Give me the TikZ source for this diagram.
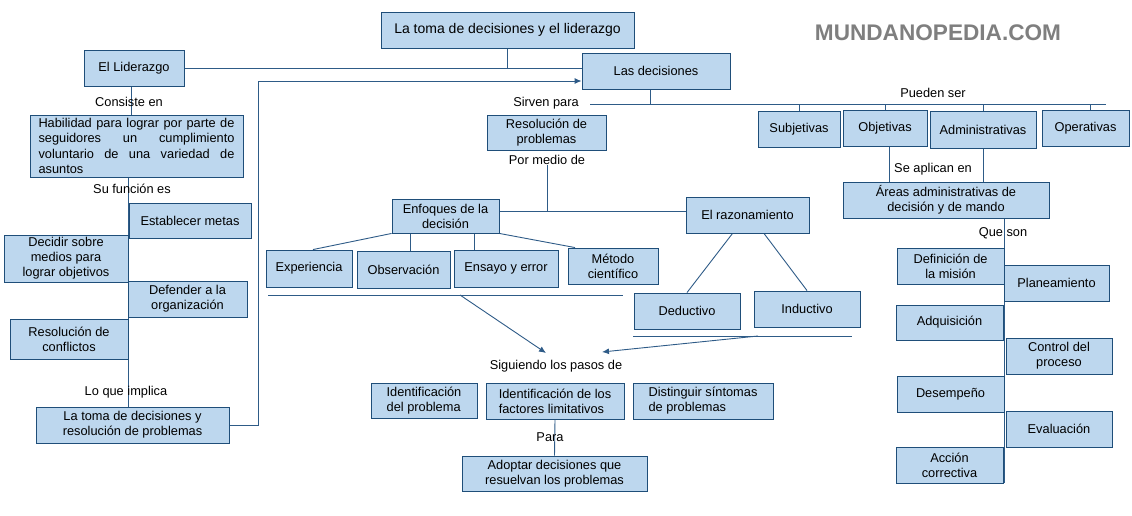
\documentclass[tikz,border=0pt]{standalone}
\usepackage{fontspec}
\setmainfont{Liberation Sans}
\usetikzlibrary{arrows.meta,calc,backgrounds}
\definecolor{boxfill}{HTML}{BDD7EE}
\definecolor{boxdraw}{HTML}{1F4E79}
\definecolor{linec}{HTML}{2E5B87}
\definecolor{wmc}{HTML}{7F7F7F}
\newcommand\bx[7][]{\node[box,minimum width={(#5-#3)*1pt},minimum height={(#6-#4)*1pt},#1] (#2) at ({(#3+#5)/2},{(#4+#6)/2}) {#7};}
\begin{document}
\begin{tikzpicture}[x=1pt,y=-1pt,
 box/.style={draw=boxdraw,fill=boxfill,line width=0.9pt,align=center,inner sep=2pt,font=\fontsize{12.8}{15}\selectfont},
 lbl/.style={font=\fontsize{12.8}{15}\selectfont,inner sep=1pt},
 ln/.style={draw=linec,line width=0.9pt},
 arr/.style={ln,-{Latex[length=7pt,width=6pt]}}]
\useasboundingbox (0,0) rectangle (1132,515);

\bx[font=\fontsize{14}{16}\selectfont]{title}{381}{12}{634}{48}{La toma de decisiones y el liderazgo}
\bx{lid}{84}{50}{184}{86}{El Liderazgo}
\bx{dec}{582}{53}{730}{89}{Las decisiones}
\bx[align=left,font=\fontsize{12.8}{15.5}\selectfont]{hab}{30}{115}{243}{177}{\makebox[196pt][s]{Habilidad para lograr por parte de}\\
\makebox[196pt][s]{seguidores un cumplimiento}\\
\makebox[196pt][s]{voluntario de una variedad de}\\
asuntos}
\bx{est}{129}{203}{251}{238}{Establecer metas}
\bx{dsm}{4}{235}{128}{282}{Decidir sobre\\medios para\\lograr objetivos}
\bx{defo}{128}{281}{247}{317}{Defender a la\\organización}
\bx{conf}{10}{319}{128}{359}{Resolución de\\conflictos}
\bx{toma}{36}{407}{229}{443}{La toma de decisiones y\\resolución de problemas}
\bx{resp}{487}{115}{606}{150}{Resolución de\\problemas}
\bx{enf}{392}{199}{499}{233}{Enfoques de la\\decisión}
\bx{raz}{686}{197}{809}{233}{El razonamiento}
\bx{expe}{266}{250}{352}{287}{Experiencia}
\bx{obs}{357}{251}{450}{288}{Observación}
\bx{ens}{454}{250}{558}{287}{Ensayo y error}
\bx{met}{568}{248}{658}{284}{Método\\científico}
\bx{dedu}{634}{293}{740}{329}{Deductivo}
\bx{indu}{754}{291}{860}{327}{Inductivo}
\bx[align=left]{idp}{371}{383}{477}{418}{Identificación\\del problema}
\bx[align=left]{fac}{486}{383}{624}{419}{Identificación de los\\factores limitativos}
\bx[align=left]{dis}{633}{383}{773}{419}{Distinguir síntomas\\de problemas}
\bx{adp}{462}{456}{647}{491}{Adoptar decisiones que\\resuelvan los problemas}
\bx{sub}{758}{111}{840}{147}{Subjetivas}
\bx{obj}{843}{110}{927}{146}{Objetivas}
\bx{adm}{930}{111}{1036}{148}{Administrativas}
\bx{ope}{1042}{110}{1129}{146}{Operativas}
\bx{are}{843}{182}{1049}{218}{Áreas administrativas de\\decisión y de mando}
\bx{dmi}{897}{248}{1004}{284}{Definición de\\la misión}
\bx{pla}{1004}{265}{1109}{301}{Planeamiento}
\bx{adq}{896}{305}{1003}{340}{Adquisición}
\bx{cpr}{1006}{338}{1112}{374}{Control del\\proceso}
\bx{des}{897}{376}{1004}{412}{Desempeño}
\bx{eva}{1006}{411}{1112}{447}{Evaluación}
\bx{acc}{896}{447}{1003}{483}{Acción\\correctiva}

\node[lbl] (l1) at (129,102) {Consiste en};
\node[lbl] (l2) at (132,189) {Su función es};
\node[lbl] (l3) at (126,392) {Lo que implica};
\node[lbl] (l4) at (546,103) {Sirven para};
\node[lbl] (l5) at (547,160) {Por medio de};
\node[lbl] (l6) at (933,93) {Pueden ser};
\node[lbl] (l7) at (933,169) {Se aplican en};
\node[lbl] (l8) at (1003,233) {Que son};
\node[lbl] (l9) at (556,366) {Siguiendo los pasos de};
\node[lbl] (l10) at (550,437) {Para};
\node[font=\fontsize{22.6}{26}\selectfont\bfseries,text=wmc] (wm) at (938,33) {MUNDANOPEDIA.COM};

\coordinate (hl) at (590,104);
\coordinate (hr) at (1106,104);
\coordinate (bend) at (258,81);
\coordinate (u1) at (268,295);
\coordinate (u2) at (623,295);
\coordinate (u3) at (460,295);
\coordinate (a1) at (546,353);
\coordinate (v1) at (633,336);
\coordinate (v2) at (852,336);
\coordinate (v3) at (758,336);
\coordinate (a2) at (602,352);
\coordinate (j1) at ([yshift=5pt]enf.east);

\begin{scope}[on background layer]
\draw[ln] (lid.east) -- (lid.east -| dec.west);
\draw[ln] (title.south) -- (title.south |- lid.east);
\draw[arr] (toma.east) -| (bend) -- (bend -| dec.west);
\draw[ln] ([xshift=-2.5pt]lid.south) -- ([xshift=-2.5pt]lid.south |- hab.north);
\draw[ln] (hab.south -| est.west) -- (toma.north -| est.west);
\draw[ln] ([xshift=-6pt]dec.south) -- ([xshift=-6pt]dec.south |- hl);
\draw[ln] (hl) -- (hr);
\draw[ln] (sub.north) -- (sub.north |- hr);
\draw[ln] (obj.north) -- (obj.north |- hr);
\draw[ln] (adm.north) -- (adm.north |- hr);
\draw[ln] ([xshift=5pt]ope.north) -- ([xshift=5pt]ope.north |- hr);
\draw[ln] (j1) -- (j1 -| raz.west);
\draw[ln] ([yshift=-5pt]l5.center) -- (l5.center |- j1);
\draw[ln] (enf.south west) -- ([xshift=4pt]expe.north);
\draw[ln] ([xshift=6.5pt]obs.north) -- ([xshift=6.5pt]obs.north |- enf.south);
\draw[ln] ([xshift=-32pt]ens.north) -- ([xshift=-32pt]ens.north |- enf.south);
\draw[ln] (enf.south east) -- ([xshift=-38pt]met.north);
\draw[ln] ([xshift=-15pt]raz.south) -- (dedu.north);
\draw[ln] ([xshift=16.5pt]raz.south) -- (indu.north);
\draw[ln] (u1) -- (u2);
\draw[arr] (u3) -- (a1);
\draw[ln] (v1) -- (v2);
\draw[arr] (v3) -- (a2);
\draw[ln] (fac.south) -- (adp.north);
\draw[ln] ([xshift=4.5pt]obj.south) -- ([xshift=4.5pt]obj.south |- are.north);
\draw[ln] (adm.south) -- (adm.south |- are.north);
\draw[ln] (are.south -| dmi.east) -- (dmi.east |- acc.south);
\end{scope}
\end{tikzpicture}
\end{document}
